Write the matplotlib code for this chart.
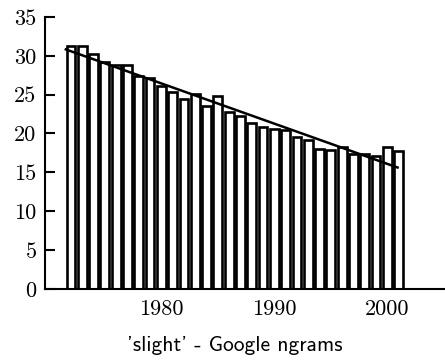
import numpy as np
import matplotlib
matplotlib.use("Agg")
import matplotlib.pyplot as plt

years = np.arange(1972, 2002)
freq = [31.3, 31.2, 30.2, 29.2, 28.8, 28.8, 27.4, 27.2, 26.1, 25.3,
        24.4, 25.1, 23.6, 24.8, 22.8, 22.3, 21.4, 20.8, 20.6, 20.4,
        19.5, 19.1, 18.0, 17.9, 18.3, 17.3, 17.3, 17.1, 18.3, 17.8]
yticks = [0, 5, 10, 15, 20, 25, 30, 35]
xticks = [1980, 1990, 2000]

fig = plt.figure(figsize=(4.45, 3.61), dpi=100)
ax = fig.add_axes([0.101, 0.2, 0.899, 0.753])

ax.bar(years, freq, width=0.78, color="white", edgecolor="black", linewidth=1.9)

# linear trend
p = np.polyfit(years, freq, 1)
xt = np.array([years[0] - 0.45, years[-1] - 0.1])
ax.plot(xt, np.polyval(p, xt), color="black", lw=1.8)

ax.set_xlim(1969.7, 2005.1)
ax.set_ylim(0, 35)
ax.set_yticks(yticks)
ax.set_xticks(xticks)
ax.set_yticklabels([str(t) for t in yticks], fontfamily="cmr10", fontsize=16)
ax.set_xticklabels([str(t) for t in xticks], fontfamily="cmr10", fontsize=16)
ax.tick_params(axis="y", direction="in", length=7, width=1.5, pad=6)
ax.tick_params(axis="x", length=0, pad=8)

for s in ["top", "right"]:
    ax.spines[s].set_visible(False)
for s in ["left", "bottom"]:
    ax.spines[s].set_linewidth(1.5)

ax.set_xlabel("'slight' - Google ngrams", fontfamily="cmss10", fontsize=15.5)
ax.xaxis.set_label_coords(0.475, -0.175)

fig.savefig("out.png", dpi=100)
